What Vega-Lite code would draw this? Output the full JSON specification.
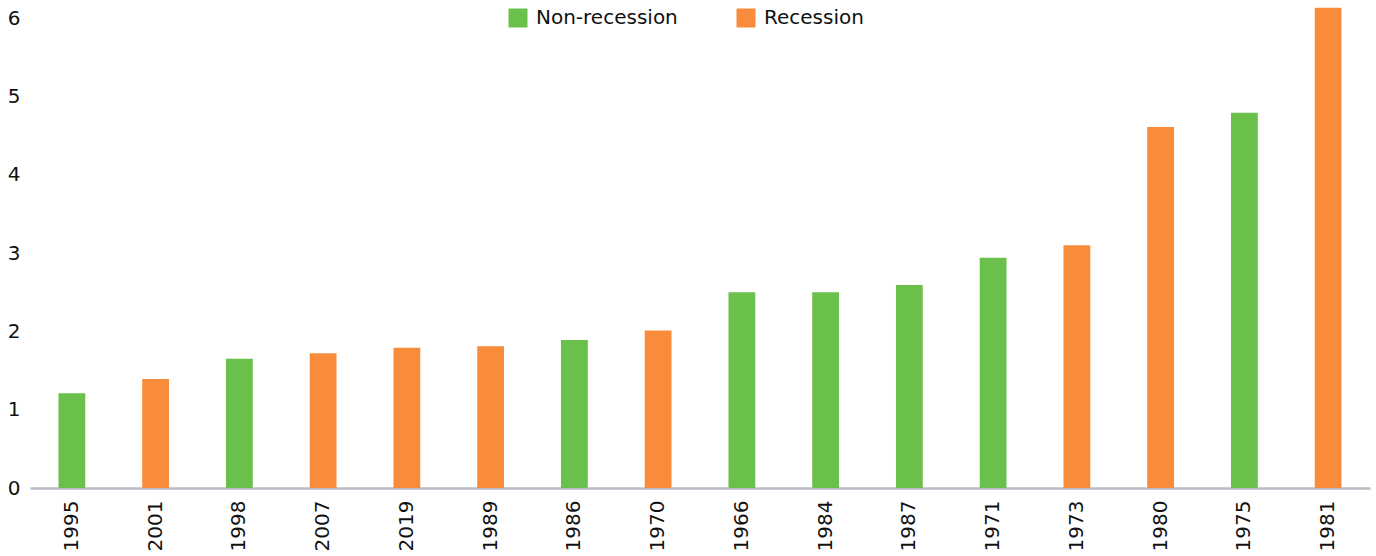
{
  "$schema": "https://vega.github.io/schema/vega-lite/v6.json",
  "width": 1340,
  "height": 488,
  "autosize": {"type": "none"},
  "padding": {"left": 30, "top": 0, "right": 6, "bottom": 68},
  "background": "white",
  "config": {
    "view": {"stroke": null},
    "font": "DejaVu Sans",
    "axis": {"grid": false, "ticks": false, "labelFont": "DejaVu Sans", "labelFontSize": 20, "labelColor": "#111111"}
  },
  "data": {
    "values": [
      {"year": "1995", "value": 1.21, "type": "Non-recession"},
      {"year": "2001", "value": 1.39, "type": "Recession"},
      {"year": "1998", "value": 1.65, "type": "Non-recession"},
      {"year": "2007", "value": 1.72, "type": "Recession"},
      {"year": "2019", "value": 1.79, "type": "Recession"},
      {"year": "1989", "value": 1.81, "type": "Recession"},
      {"year": "1986", "value": 1.89, "type": "Non-recession"},
      {"year": "1970", "value": 2.01, "type": "Recession"},
      {"year": "1966", "value": 2.5, "type": "Non-recession"},
      {"year": "1984", "value": 2.5, "type": "Non-recession"},
      {"year": "1987", "value": 2.59, "type": "Non-recession"},
      {"year": "1971", "value": 2.94, "type": "Non-recession"},
      {"year": "1973", "value": 3.1, "type": "Recession"},
      {"year": "1980", "value": 4.61, "type": "Recession"},
      {"year": "1975", "value": 4.79, "type": "Non-recession"},
      {"year": "1981", "value": 6.13, "type": "Recession"}
    ]
  },
  "mark": {"type": "bar"},
  "encoding": {
    "x": {
      "field": "year", "type": "nominal", "sort": null,
      "scale": {"paddingInner": 0.68, "paddingOuter": 0.34},
      "axis": {"title": null, "labelAngle": -90, "labelPadding": 12, "domainColor": "#b9bdc5", "domainWidth": 2.5, "labelBaseline": "middle"}
    },
    "y": {
      "field": "value", "type": "quantitative",
      "scale": {"domain": [0, 6.23], "nice": false},
      "axis": {"title": null, "values": [0, 1, 2, 3, 4, 5, 6], "domain": false, "labelPadding": 10, "labelAlign": "right"}
    },
    "color": {
      "field": "type", "type": "nominal",
      "scale": {"domain": ["Non-recession", "Recession"], "range": ["#6bbf4b", "#f98c3b"]},
      "legend": {
        "title": null, "orient": "none", "direction": "horizontal",
        "legendX": 478, "legendY": 8,
        "symbolType": "square", "symbolSize": 361, "symbolStrokeWidth": 0,
        "labelFontSize": 20, "labelFont": "DejaVu Sans", "labelColor": "#111111",
        "labelOffset": 8, "columnPadding": 58
      }
    }
  }
}
